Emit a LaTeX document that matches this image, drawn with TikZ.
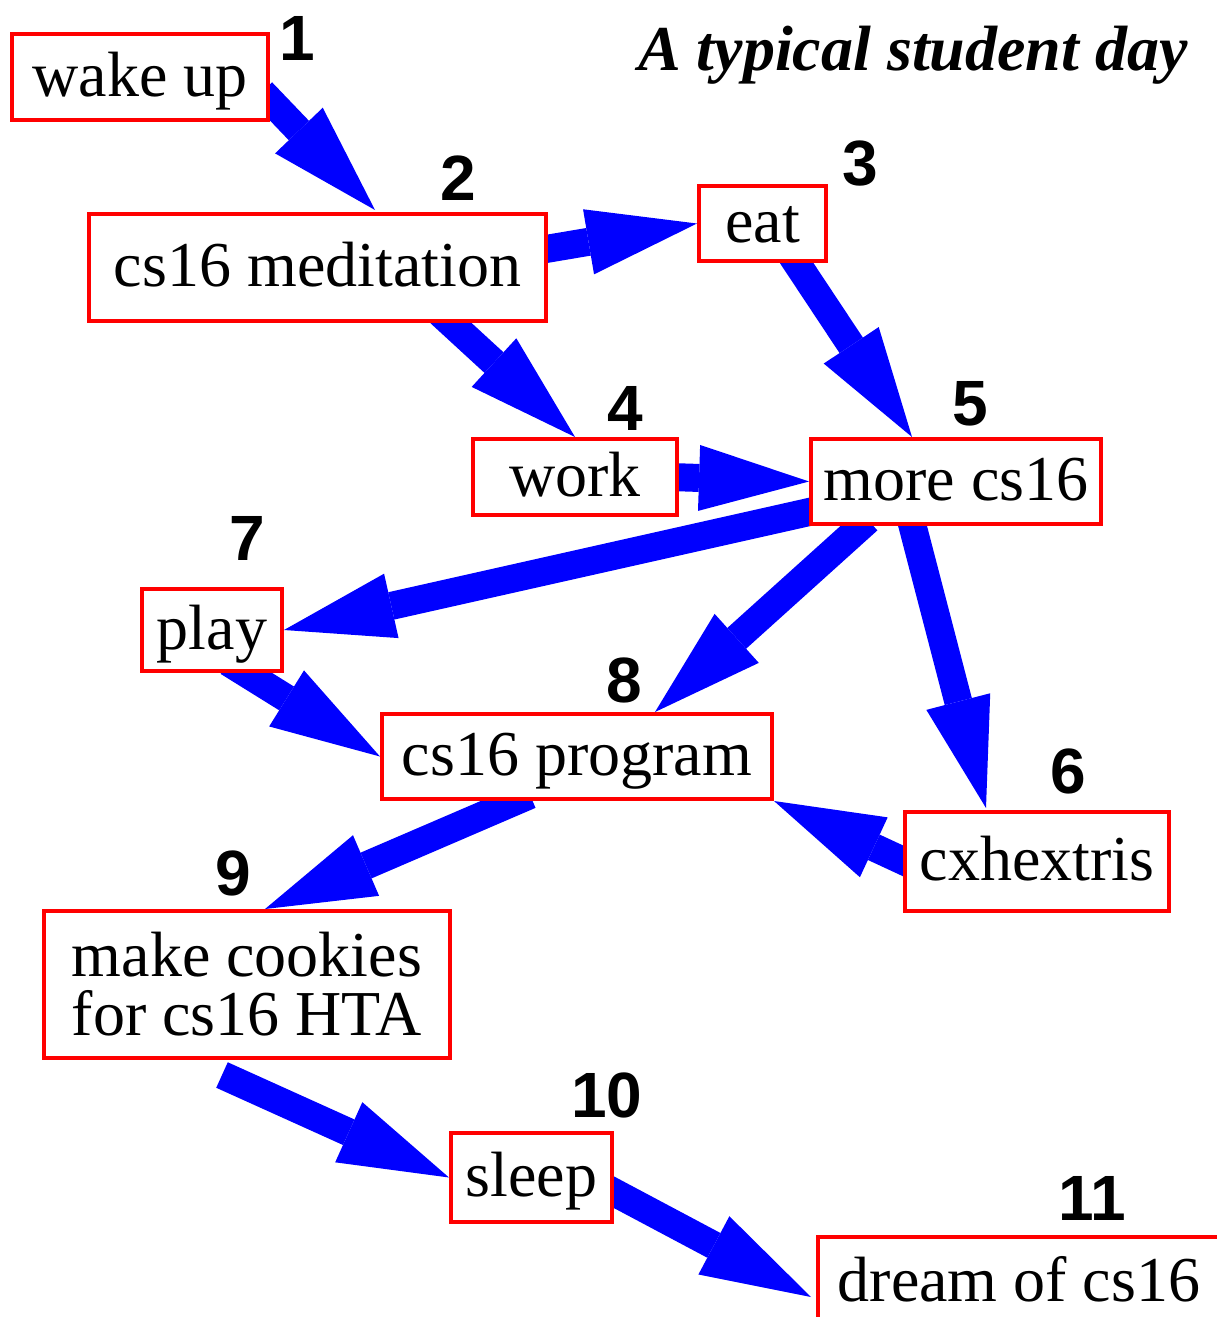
\documentclass[tikz,border=0pt]{standalone}
\usepackage{fontspec}
\setmainfont{Liberation Serif}
\newfontfamily\numfont{Liberation Sans}
\usetikzlibrary{arrows.meta,calc,backgrounds}
\begin{document}
\begin{tikzpicture}[x=0.5pt,y=-0.5pt,
  box/.style={draw=red, line width=2pt, fill=white, inner sep=0pt,
    font=\fontsize{32}{29.5}\selectfont, text height=22.4pt, text depth=3.2pt},
  multibox/.style={draw=red, line width=2pt, fill=white, inner sep=0pt,
    font=\fontsize{32}{29.5}\selectfont, align=left},
  lbl/.style={font=\numfont\bfseries\fontsize{32}{36}\selectfont, anchor=base, inner sep=0pt},
  ttl/.style={font=\fontsize{32}{36}\selectfont\bfseries\itshape, anchor=base east, inner sep=0pt},
  arr/.style={draw=blue, line width=14pt, -{Triangle[length=55pt,width=33pt,line width=0pt]}}]
\useasboundingbox (0,0) rectangle (1216,1317);

% boxes
\node[box, minimum width=128pt, minimum height=43pt]   (n1)  at (140,77)     {wake up};
\node[box, minimum width=228.5pt, minimum height=53.5pt] (n2) at (317.5,267.5) {cs16 meditation};
\node[box, minimum width=63.5pt, minimum height=37.5pt] (n3)  at (762.5,223.5) {eat};
\node[box, minimum width=102pt, minimum height=38pt]   (n4)  at (575,477)    {work};
\node[box, minimum width=145pt, minimum height=42.5pt] (n5)  at (956,481.5)  {more cs16};
\node[box, minimum width=132pt, minimum height=49.5pt] (n6)  at (1037,861.5) {cxhextris};
\node[box, minimum width=70pt, minimum height=41pt]    (n7)  at (212,630)    {play};
\node[box, minimum width=195pt, minimum height=42.5pt] (n8)  at (577,756.5)  {cs16 program};
\node[multibox, minimum width=203pt, minimum height=73.5pt] (n9) at (247,984.5) {make cookies\\for cs16 HTA};
\node[box, minimum width=80.5pt, minimum height=44.5pt] (n10) at (531.5,1177.5) {sleep};
\node[box, minimum width=201pt, minimum height=45.5pt] (n11) at (1019,1282.5) {dream of cs16};

% number labels
\node[lbl] (l1)  at (297,60)   {1};
\node[lbl] (l2)  at (458,200)  {2};
\node[lbl] (l3)  at (860,185)  {3};
\node[lbl] (l4)  at (625,430)  {4};
\node[lbl] (l5)  at (970,425)  {5};
\node[lbl] (l6)  at (1068,793) {6};
\node[lbl] (l7)  at (247,560)  {7};
\node[lbl] (l8)  at (624,702)  {8};
\node[lbl] (l9)  at (233,895)  {9};
\node[lbl] (l10) at (607,1117) {10};
\node[lbl] (l11) at (1092,1220) {11};

% title
\node[ttl] (title) at (1188,70) {A typical student day};

% arrows
\begin{scope}[on background layer]
\draw[arr] ($(n1.south east)+(-8,-30)$) -- ($(n2.north west)+(288,-2)$);
\draw[arr] ($(n2.east)+(-8,-17.5)$) -- (n3.west);
\draw[arr] ($(n2.south west)+(353,-10)$) -- (n4.north);
\draw[arr] ($(n3.south)+(27.5,-10)$) -- ($(n5.north west)+(103,0)$);
\draw[arr] ($(n4.east)+(-9,0)$) -- (n5.west);
\draw[arr] ($(n5.south west)+(9,-16)$) -- (n7.east);
\draw[arr] ($(n5.south west)+(59,-6)$) -- ($(n8.north east)+(-119,0)$);
\draw[arr] ($(n5.south west)+(102,-6)$) -- ($(n6.north west)+(83,-2)$);
\draw[arr] ($(n7.south)+(16,-11)$) -- (n8.west);
\draw[arr] ($(n6.west)+(9,3.5)$) -- (n8.south east);
\draw[arr] ($(n8.south west)+(150,-6)$) -- ($(n9.north west)+(223,0)$);
\draw[arr] ($(n9.south west)+(180,15)$) -- (n10.west);
\draw[arr] ($(n10.east)+(-8,10.5)$) -- ($(n11.north west)+(-5,62)$);
\end{scope}
\end{tikzpicture}
\end{document}
